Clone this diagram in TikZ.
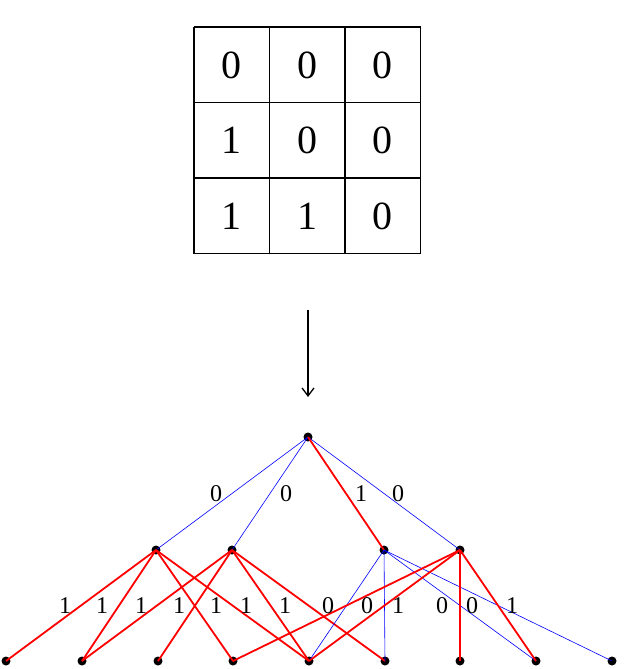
\documentclass[tikz,border=0pt]{standalone}
\usepackage{fontspec}
\usetikzlibrary{arrows.meta}
\setmainfont{Liberation Serif}
\begin{document}
\begin{tikzpicture}[x=1pt,y=-1pt,
  dot/.style={circle,fill=black,inner sep=0pt,minimum size=9pt},
  rl/.style={red,line width=1.8pt},
  bl/.style={blue,line width=0.6pt},
  lab/.style={font=\fontsize{24}{24}\selectfont,inner sep=0pt},
  cell/.style={font=\fontsize{40}{40}\selectfont}]
\useasboundingbox (0,0) rectangle (640,669);
\foreach \k in {0,1,2,3}{
  \draw[line width=1.6pt] (194+75.5*\k,27) -- (194+75.5*\k,253.5);
  \draw[line width=1.6pt] (194,27+75.5*\k) -- (420.5,27+75.5*\k);
}
\foreach \r/\a/\b/\c in {0/0/0/0,1/1/0/0,2/1/1/0}{
  \node[cell] (g\r a) at (231.75,65+75.5*\r) {\a};
  \node[cell] (g\r b) at (307.25,65+75.5*\r) {\b};
  \node[cell] (g\r c) at (382.75,65+75.5*\r) {\c};
}
\coordinate (as) at (308,310);
\coordinate (ae) at (308,397);
\draw[-{Straight Barb[length=8pt,width=12pt]},line width=1.3pt] (as) -- (ae);
\node[dot] (r) at (308,437) {};
\node[dot] (A) at (156,550) {};
\node[dot] (B) at (232,550) {};
\node[dot] (C) at (384,550) {};
\node[dot] (D) at (460,550) {};
\foreach \i/\x in {1/6,2/82,3/158,4/233,5/309,6/385,7/460,8/536,9/612}
  \node[dot] (l\i) at (\x,661) {};
\draw[bl] (r.center)--(A.center) (r.center)--(B.center) (r.center)--(D.center);
\draw[rl] (r.center)--(C.center);
\foreach \t in {1,2,4,5} \draw[rl] (A.center)--(l\t.center);
\foreach \t in {2,3,5,6} \draw[rl] (B.center)--(l\t.center);
\foreach \t in {5,6,8,9} \draw[bl] (C.center)--(l\t.center);
\foreach \t in {4,5,7,8} \draw[rl] (D.center)--(l\t.center);
\foreach \x/\t in {216/0,286/0,361/1,398/0}
  \node[lab] (u\x) at (\x,494) {\t};
\foreach \x/\t in {65/1,102/1,141/1,179/1,216/1,246/1,285/1,328/0,367/0,398/1,442/0,472/0,512/1}
  \node[lab] (v\x) at (\x,606) {\t};
\end{tikzpicture}
\end{document}
